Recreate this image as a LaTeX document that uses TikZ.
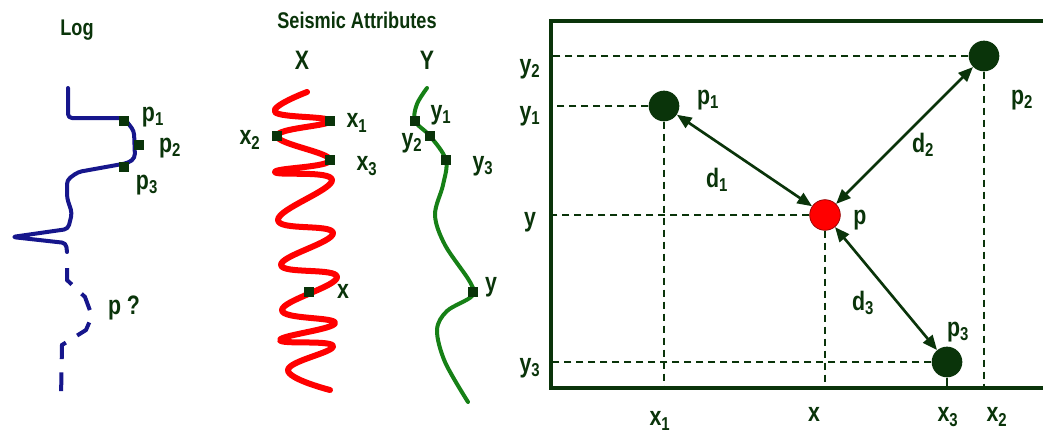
\documentclass[tikz,border=0pt]{standalone}
\usepackage{fontspec}
\setmainfont{Liberation Sans}[FakeStretch=0.8]
\usetikzlibrary{arrows.meta}
\definecolor{dkgreen}{RGB}{10,52,10}
\definecolor{logblue}{RGB}{22,22,140}
\definecolor{attgreen}{RGB}{22,128,22}
\tikzset{
  lbl/.style   = {font=\fontsize{20}{22}\selectfont\bfseries, text=dkgreen, inner sep=0pt},
  ttl/.style   = {lbl, font=\fontsize{17}{19}\selectfont\bfseries},
  sq/.style    = {fill=dkgreen, minimum size=6.8pt, inner sep=0pt},
  pnt/.style   = {circle, fill=dkgreen, minimum size=23pt, inner sep=0pt},
  guide/.style = {dkgreen, line width=1.9pt, dash pattern=on 5.5pt off 3.5pt},
  frame/.style = {dkgreen, line width=3pt},
  dist/.style  = {{Triangle[length=11pt,width=9pt]}-{Triangle[length=11pt,width=9pt]},
                  dkgreen, line width=2pt},
  trace/.style = {line width=3pt, line cap=round, line join=round}
}

\begin{document}
\begin{tikzpicture}[x=0.75pt, y=-0.75pt]
\useasboundingbox (0,0) rectangle (1043,432);

\node[ttl] (tlog) at (77,30) {Log};
\draw[trace, logblue, rounded corners=3pt]
  (68,88) -- (68,118) -- (124,118) -- (134,131) -- (135,158) -- (128,163)
  -- (78,172) -- (67,180) -- (67,198) -- (72,213) -- (68,229) -- (12,237)
  -- (66,243) -- (67,252);
\draw[logblue, line width=3pt, dash pattern=on 14pt off 10pt]
  (67,268) -- (67,280) -- (85,297) -- (92,316) -- (86,330) -- (62,345) -- (61,398);
\node[sq] (lp1) at (124,121) {};
\node[sq] (lp2) at (139,145) {};
\node[sq] (lp3) at (124,167) {};
\node[lbl] (tlp1) at (153,117) {p\textsubscript{1}};
\node[lbl] (tlp2) at (170,148) {p\textsubscript{2}};
\node[lbl] (tlp3) at (147,185) {p\textsubscript{3}};
\node[lbl] (tlpq) at (124,308) {p ?};

\node[ttl] (tseis) at (357,20) {Seismic Attributes};
\node[lbl] (tX) at (302,60) {X};
\node[lbl] (tY) at (427,60) {Y};
\draw[trace, red, line width=4.5pt] plot[smooth, tension=0.75] coordinates {(307,92)
  (275,112) (330,121) (277,136) (330,160) (275,172) (332,180) (278,220) (333,233)
  (281,265) (337,277) (282,310) (335,323) (280,340) (333,346) (288,370) (330,390)};
\node[sq] (ax1) at (330,121) {};
\node[sq] (ax2) at (277,136) {};
\node[sq] (ax3) at (330,160) {};
\node[sq] (ax)  at (309,292) {};
\node[lbl] (tax1) at (357,123) {x\textsubscript{1}};
\node[lbl] (tax2) at (250,140) {x\textsubscript{2}};
\node[lbl] (tax3) at (367,166) {x\textsubscript{3}};
\node[lbl] (tax)  at (343,291) {x};

\draw[trace, attgreen] plot[smooth, tension=0.55] coordinates {(427,88) (417,104)
  (415,121) (430,136) (446,160) (443,185) (435,215) (445,245) (470,282) (472,296)
  (447,311) (437,330) (445,362) (468,402)};
\node[sq] (ay1) at (415,121) {};
\node[sq] (ay2) at (430,136) {};
\node[sq] (ay3) at (446,160) {};
\node[sq] (ay)  at (473,292) {};
\node[lbl] (tay1) at (441,115) {y\textsubscript{1}};
\node[lbl] (tay2) at (412,143) {y\textsubscript{2}};
\node[lbl] (tay3) at (483,166) {y\textsubscript{3}};
\node[lbl] (tay)  at (491,287) {y};

\coordinate (tr) at (1046,21);
\coordinate (bl) at (551,388);
\coordinate (br) at (1046,388);
\draw[frame] (tr) -| (bl) -- (br);

\node[pnt] (p1) at (664,106) {};
\node[pnt] (p2) at (984,56) {};
\node[pnt] (p3) at (947,362) {};
\node[pnt, fill=red, draw=red!55!black, line width=0.5pt] (p) at (825,215) {};

\draw[guide] (p2) -- (p2 -| bl);
\draw[guide] (p1) -- (p1 -| bl);
\draw[guide] (p)  -- (p -| bl);
\draw[guide] (p3) -- (p3 -| bl);
\draw[guide] (p1) -- (p1 |- bl);
\draw[guide] (p)  -- (p |- bl);
\draw[guide] (p2) -- (p2 |- bl);
\draw[dkgreen, line width=1.9pt] (p3) -- (p3 |- bl);

\draw[dist] (p1) -- (p);
\draw[dist] (p2) -- (p);
\draw[dist] (p3) -- (p);

\node[lbl] (tp1) at (708,100) {p\textsubscript{1}};
\node[lbl] (tp2) at (1022,100) {p\textsubscript{2}};
\node[lbl] (tp3) at (958,332) {p\textsubscript{3}};
\node[lbl] (tp)  at (860,220) {p};
\node[lbl] (td1) at (717,180) {d\textsubscript{1}};
\node[lbl] (td2) at (923,145) {d\textsubscript{2}};
\node[lbl] (td3) at (863,303) {d\textsubscript{3}};

\node[lbl] (ty2) at (530,69)  {y\textsubscript{2}};
\node[lbl] (ty1) at (530,116) {y\textsubscript{1}};
\node[lbl] (ty)  at (530,222) {y};
\node[lbl] (ty3) at (530,368) {y\textsubscript{3}};
\node[lbl] (tx1) at (660,421) {x\textsubscript{1}};
\node[lbl] (tx)  at (814,414) {x};
\node[lbl] (tx3) at (948,417) {x\textsubscript{3}};
\node[lbl] (tx2) at (997,417) {x\textsubscript{2}};
\end{tikzpicture}
\end{document}
